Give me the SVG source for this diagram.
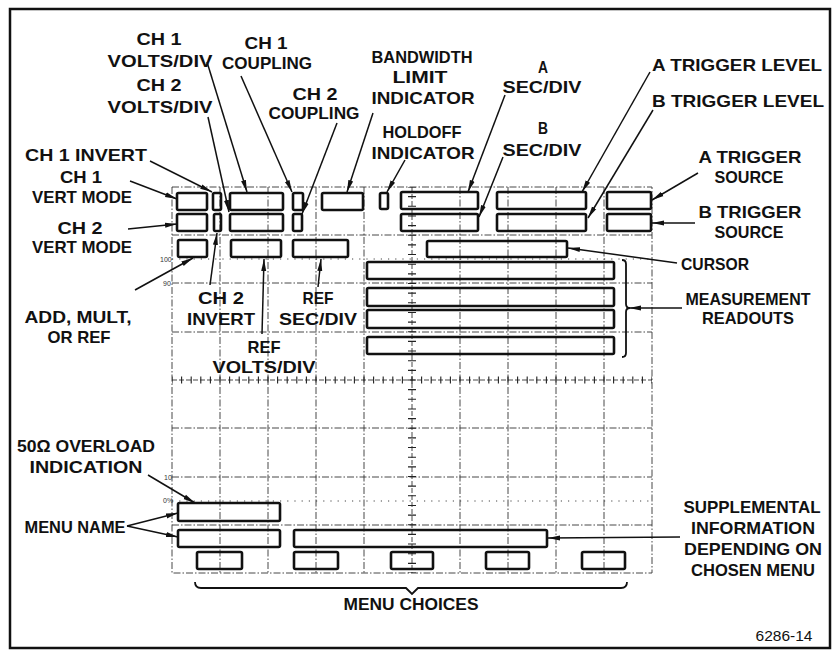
<svg xmlns="http://www.w3.org/2000/svg" width="835" height="654" viewBox="0 0 835 654">
<style>
.t{font-family:"Liberation Sans",Arial,sans-serif;font-weight:bold;font-size:16.5px;fill:#111;text-anchor:middle}
.ts{font-family:"Liberation Sans",Arial,sans-serif;font-size:7px;fill:#333}
.box{fill:none;stroke:#111;stroke-width:2.6}
.g{fill:none;stroke:#333;stroke-width:0.9;stroke-dasharray:7 2 1.5 2}
.gd{fill:none;stroke:#444;stroke-width:1;stroke-dasharray:1.2 6}
.c{fill:none;stroke:#111;stroke-width:1.5;marker-end:url(#ah)}
.br{fill:none;stroke:#111;stroke-width:1.8}
</style>
<defs>
<marker id="ah" markerUnits="userSpaceOnUse" markerWidth="13" markerHeight="7" refX="12" refY="3.5" orient="auto">
<path d="M0,1 L12,3.5 L0,6 z" fill="#111"/>
</marker>
</defs>
<rect x="0" y="0" width="835" height="654" fill="#fff"/>
<rect x="10" y="9" width="820" height="639" fill="none" stroke="#111" stroke-width="2.5"/>

<g id="graticule">
<rect class="g" x="172" y="187" width="480" height="386"/>
<path class="g" d="M220,187V573M268,187V573M316,187V573M364,187V573M460,187V573M508,187V573M556,187V573M604,187V573"/>
<path class="g" d="M172,235H652M172,283H652M172,332H652M172,428H652M172,477H652M172,525H652"/>
<path class="gd" d="M172,259H652M172,501H652"/>
<path fill="none" stroke="#333" stroke-width="0.9" stroke-dasharray="5 2" d="M172,380H652M412,187V573"/>
<path fill="none" stroke="#222" stroke-width="7" stroke-dasharray="1.1 8.5" stroke-dashoffset="-9.05" d="M172,380H652"/>
<path fill="none" stroke="#222" stroke-width="8" stroke-dasharray="1.1 8.55" stroke-dashoffset="-9.1" d="M412,187V573"/>
<text class="ts" x="160" y="262">100</text>
<text class="ts" x="163" y="286">90</text>
<text class="ts" x="164" y="480">10</text>
<text class="ts" x="163" y="503">0%</text>
</g>

<g id="box-ch1-vert-mode"><rect class="box" x="177" y="193" width="30" height="17" rx="1.5"/></g>
<g id="box-ch1-invert"><rect class="box" x="213" y="193" width="8" height="17" rx="1.5"/></g>
<g id="box-ch1-volts"><rect class="box" x="230" y="193" width="53" height="17" rx="1.5"/></g>
<g id="box-ch1-coupling"><rect class="box" x="293" y="193" width="10" height="17" rx="1.5"/></g>
<g id="box-bandwidth"><rect class="box" x="322" y="193" width="41" height="17" rx="1.5"/></g>
<g id="box-holdoff"><rect class="box" x="380" y="193" width="8" height="16" rx="1.5"/></g>
<g id="box-a-secdiv"><rect class="box" x="401" y="192" width="77" height="17" rx="1.5"/></g>
<g id="box-a-trig-level"><rect class="box" x="497" y="192" width="89" height="17" rx="1.5"/></g>
<g id="box-a-trig-source"><rect class="box" x="607" y="192" width="44" height="17" rx="1.5"/></g>

<g id="box-ch2-vert-mode"><rect class="box" x="177" y="214" width="30" height="17" rx="1.5"/></g>
<g id="box-ch2-invert"><rect class="box" x="214" y="214" width="7" height="17" rx="1.5"/></g>
<g id="box-ch2-volts"><rect class="box" x="230" y="214" width="53" height="17" rx="1.5"/></g>
<g id="box-ch2-coupling"><rect class="box" x="293" y="214" width="9" height="17" rx="1.5"/></g>
<g id="box-b-secdiv"><rect class="box" x="401" y="214" width="77" height="17" rx="1.5"/></g>
<g id="box-b-trig-level"><rect class="box" x="497" y="214" width="89" height="17" rx="1.5"/></g>
<g id="box-b-trig-source"><rect class="box" x="607" y="214" width="44" height="17" rx="1.5"/></g>

<g id="box-add-mult-ref"><rect class="box" x="178" y="240" width="29" height="17" rx="1.5"/></g>
<g id="box-ref-volts"><rect class="box" x="231" y="240" width="50" height="17" rx="1.5"/></g>
<g id="box-ref-secdiv"><rect class="box" x="293" y="240" width="55" height="17" rx="1.5"/></g>
<g id="box-cursor"><rect class="box" x="427" y="241" width="140" height="16" rx="1.5"/></g>

<g id="box-meas-1"><rect class="box" x="367" y="262" width="247" height="17" rx="1.5"/></g>
<g id="box-meas-2"><rect class="box" x="367" y="288" width="247" height="18" rx="1.5"/></g>
<g id="box-meas-3"><rect class="box" x="367" y="310" width="247" height="18" rx="1.5"/></g>
<g id="box-meas-4"><rect class="box" x="367" y="337" width="247" height="17" rx="1.5"/></g>

<g id="box-menu-name-1"><rect class="box" x="178" y="503" width="102" height="18" rx="1.5"/></g>
<g id="box-menu-name-2"><rect class="box" x="178" y="530" width="102" height="17" rx="1.5"/></g>
<g id="box-supplemental"><rect class="box" x="294" y="530" width="253" height="17" rx="1.5"/></g>
<g id="box-choice-1"><rect class="box" x="197" y="552" width="45" height="17" rx="1.5"/></g>
<g id="box-choice-2"><rect class="box" x="294" y="552" width="44" height="17" rx="1.5"/></g>
<g id="box-choice-3"><rect class="box" x="391" y="552" width="42" height="17" rx="1.5"/></g>
<g id="box-choice-4"><rect class="box" x="486" y="552" width="43" height="17" rx="1.5"/></g>
<g id="box-choice-5"><rect class="box" x="582" y="552" width="43" height="17" rx="1.5"/></g>

<g id="label-ch1-volts"><text class="t" x="159" y="45" textLength="45" lengthAdjust="spacingAndGlyphs">CH 1</text><text class="t" x="160" y="67" textLength="105" lengthAdjust="spacingAndGlyphs">VOLTS/DIV</text></g>
<g id="label-ch2-volts"><text class="t" x="159" y="91" textLength="45" lengthAdjust="spacingAndGlyphs">CH 2</text><text class="t" x="160" y="113" textLength="105" lengthAdjust="spacingAndGlyphs">VOLTS/DIV</text></g>
<g id="label-ch1-coupling"><text class="t" x="266" y="49" textLength="43" lengthAdjust="spacingAndGlyphs">CH 1</text><text class="t" x="267" y="69" textLength="90" lengthAdjust="spacingAndGlyphs">COUPLING</text></g>
<g id="label-ch2-coupling"><text class="t" x="315" y="100" textLength="45" lengthAdjust="spacingAndGlyphs">CH 2</text><text class="t" x="314" y="119" textLength="91" lengthAdjust="spacingAndGlyphs">COUPLING</text></g>
<g id="label-ch1-invert"><text class="t" x="86" y="161" textLength="122" lengthAdjust="spacingAndGlyphs">CH 1 INVERT</text></g>
<g id="label-ch1-vert-mode"><text class="t" x="81" y="183" textLength="42" lengthAdjust="spacingAndGlyphs">CH 1</text><text class="t" x="82" y="203" textLength="100" lengthAdjust="spacingAndGlyphs">VERT MODE</text></g>
<g id="label-ch2-vert-mode"><text class="t" x="80" y="234" textLength="45" lengthAdjust="spacingAndGlyphs">CH 2</text><text class="t" x="82" y="253" textLength="100" lengthAdjust="spacingAndGlyphs">VERT MODE</text></g>
<g id="label-bandwidth"><text class="t" x="422" y="63" textLength="101" lengthAdjust="spacingAndGlyphs">BANDWIDTH</text><text class="t" x="420" y="83" textLength="55" lengthAdjust="spacingAndGlyphs">LIMIT</text><text class="t" x="423" y="104" textLength="103" lengthAdjust="spacingAndGlyphs">INDICATOR</text></g>
<g id="label-holdoff"><text class="t" x="422" y="138" textLength="79" lengthAdjust="spacingAndGlyphs">HOLDOFF</text><text class="t" x="423" y="159" textLength="103" lengthAdjust="spacingAndGlyphs">INDICATOR</text></g>
<g id="label-a-secdiv"><text class="t" x="543" y="73" textLength="10" lengthAdjust="spacingAndGlyphs">A</text><text class="t" x="542" y="93" textLength="79" lengthAdjust="spacingAndGlyphs">SEC/DIV</text></g>
<g id="label-b-secdiv"><text class="t" x="543" y="134" textLength="10" lengthAdjust="spacingAndGlyphs">B</text><text class="t" x="542" y="156" textLength="79" lengthAdjust="spacingAndGlyphs">SEC/DIV</text></g>
<g id="label-a-trig-level"><text class="t" x="737" y="71" textLength="170" lengthAdjust="spacingAndGlyphs">A TRIGGER LEVEL</text></g>
<g id="label-b-trig-level"><text class="t" x="738" y="107" textLength="172" lengthAdjust="spacingAndGlyphs">B TRIGGER LEVEL</text></g>
<g id="label-a-trig-source"><text class="t" x="750" y="163" textLength="103" lengthAdjust="spacingAndGlyphs">A TRIGGER</text><text class="t" x="749" y="183" textLength="69" lengthAdjust="spacingAndGlyphs">SOURCE</text></g>
<g id="label-b-trig-source"><text class="t" x="750" y="218" textLength="103" lengthAdjust="spacingAndGlyphs">B TRIGGER</text><text class="t" x="749" y="238" textLength="69" lengthAdjust="spacingAndGlyphs">SOURCE</text></g>
<g id="label-cursor"><text class="t" x="715" y="270" textLength="68" lengthAdjust="spacingAndGlyphs">CURSOR</text></g>
<g id="label-measurement"><text class="t" x="748" y="305" textLength="125" lengthAdjust="spacingAndGlyphs">MEASUREMENT</text><text class="t" x="748" y="324" textLength="92" lengthAdjust="spacingAndGlyphs">READOUTS</text></g>
<g id="label-add-mult"><text class="t" x="78" y="323" textLength="107" lengthAdjust="spacingAndGlyphs">ADD, MULT,</text><text class="t" x="79" y="343" textLength="63" lengthAdjust="spacingAndGlyphs">OR REF</text></g>
<g id="label-ch2-invert"><text class="t" x="221" y="304" textLength="46" lengthAdjust="spacingAndGlyphs">CH 2</text><text class="t" x="221" y="325" textLength="68" lengthAdjust="spacingAndGlyphs">INVERT</text></g>
<g id="label-ref-secdiv"><text class="t" x="318" y="304" textLength="31" lengthAdjust="spacingAndGlyphs">REF</text><text class="t" x="318" y="325" textLength="78" lengthAdjust="spacingAndGlyphs">SEC/DIV</text></g>
<g id="label-ref-volts"><text class="t" x="264" y="353" textLength="33" lengthAdjust="spacingAndGlyphs">REF</text><text class="t" x="264" y="373" textLength="103" lengthAdjust="spacingAndGlyphs">VOLTS/DIV</text></g>
<g id="label-overload"><text class="t" x="86" y="452" textLength="138" lengthAdjust="spacingAndGlyphs">50Ω OVERLOAD</text><text class="t" x="86" y="473" textLength="113" lengthAdjust="spacingAndGlyphs">INDICATION</text></g>
<g id="label-menu-name"><text class="t" x="75" y="533" textLength="101" lengthAdjust="spacingAndGlyphs">MENU NAME</text></g>
<g id="label-menu-choices"><text class="t" x="411" y="610" textLength="135" lengthAdjust="spacingAndGlyphs">MENU CHOICES</text></g>
<g id="label-supplemental"><text class="t" x="752" y="513" textLength="137" lengthAdjust="spacingAndGlyphs">SUPPLEMENTAL</text><text class="t" x="753" y="534" textLength="124" lengthAdjust="spacingAndGlyphs">INFORMATION</text><text class="t" x="753" y="555" textLength="138" lengthAdjust="spacingAndGlyphs">DEPENDING ON</text><text class="t" x="753" y="576" textLength="124" lengthAdjust="spacingAndGlyphs">CHOSEN MENU</text></g>
<g id="figure-number"><text x="784" y="641" style="font-family:'Liberation Sans',Arial,sans-serif;font-size:15.5px;fill:#111;text-anchor:middle" textLength="57" lengthAdjust="spacingAndGlyphs">6286-14</text></g>

<g id="connectors">
<path class="c" d="M150,161L212,192"/>
<path class="c" d="M130,181L177,199"/>
<path class="c" d="M128,229L177,224"/>
<path class="c" d="M207,62L247,192"/>
<path class="c" d="M208,117L229,212"/>
<path class="c" d="M241,76L292,192"/>
<path class="c" d="M337,123L302,214"/>
<path class="c" d="M373,113L347,192"/>
<path class="c" d="M405,160L387,192"/>
<path class="c" d="M505,95L468,192"/>
<path class="c" d="M503,157L479,217"/>
<path class="c" d="M650,72L582,192"/>
<path class="c" d="M653,110L588,218"/>
<path class="c" d="M698,173L652,200"/>
<path class="c" d="M695,223L652,223"/>
<path class="c" d="M677,263L568,248"/>
<path class="c" d="M682,308L629,308"/>
<path class="c" d="M135,290L193,258"/>
<path class="c" d="M210,285L217,233"/>
<path class="c" d="M262,334L264,259"/>
<path class="c" d="M318,287L321,259"/>
<path class="c" d="M148,475L195,503"/>
<path class="c" d="M127,526L178,513"/>
<path class="c" d="M127,526L178,537"/>
<path class="c" d="M680,537L548,538"/>
<path class="br" d="M622,260Q626,260 626,264V304Q626,308 630,308Q626,308 626,312V353Q626,357 622,357"/>
<path class="br" d="M195,582Q195,588 201,588H406L412,594L418,588H621Q627,588 627,582"/>
</g>
</svg>
